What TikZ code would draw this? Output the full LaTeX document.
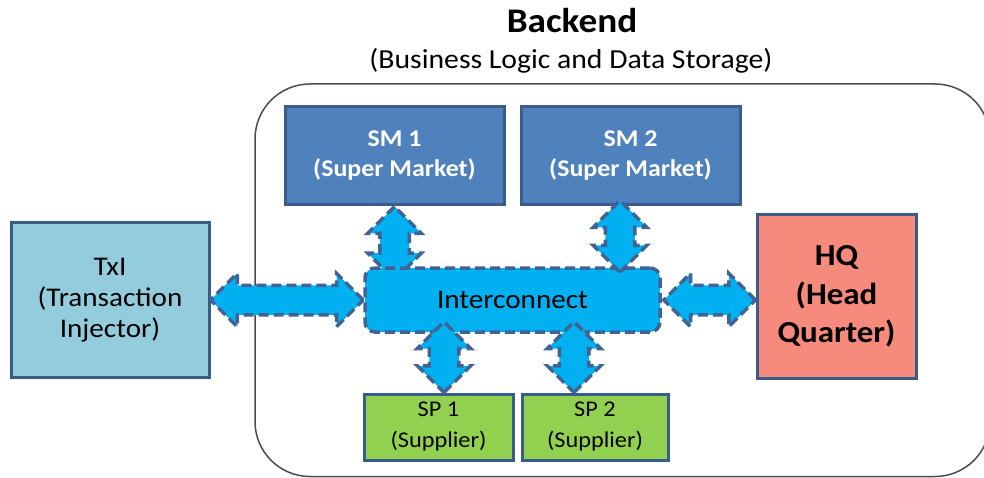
\documentclass[tikz,border=0pt]{standalone}
\usepackage{fontspec}
\setmainfont{Carlito}[FakeStretch=1.08]
\usetikzlibrary{shapes.arrows,calc}
\definecolor{smblue}{RGB}{79,129,189}
\definecolor{edgeblue}{RGB}{56,93,138}
\definecolor{txblue}{RGB}{147,205,221}
\definecolor{hqred}{RGB}{246,138,124}
\definecolor{spgreen}{RGB}{146,208,80}
\definecolor{icblue}{RGB}{0,176,240}
\definecolor{dashblue}{RGB}{64,98,148}
\newcommand\fatlink[3][]{%
  \path let \p1=(#2), \p2=(#3), \n1={veclen(\x2-\x1,\y2-\y1)}, \n2={atan2(\y2-\y1,\x2-\x1)} in
    node[fatarrow, minimum height=\n1, rotate=\n2, #1] at ($(\p1)!0.5!(\p2)$) {};}
\begin{document}
\begin{tikzpicture}[x=1pt,y=-1pt,
  box/.style={draw=edgeblue, line width=3pt, inner sep=0pt, align=center},
  fatarrow/.style={double arrow, double arrow head extend=12pt, inner xsep=0pt, inner ysep=13pt,
    text height=0pt, text depth=0pt, fill=icblue, draw=dashblue, line width=3.5pt,
    dash pattern=on 10pt off 5pt},
  linkbox/.style={rounded corners=10pt, fill=icblue, draw=dashblue, line width=3.5pt,
    dash pattern=on 10pt off 5pt, inner sep=0pt}]
\useasboundingbox (0,0) rectangle (984,478);
\clip (0,0) rectangle (984,478);
\fill[white] (0,0) rectangle (984,478);
% backend frame
\draw[line width=1.5pt, draw=black!70, rounded corners=55pt] (255,84) rectangle (990,476.5);
\node[font=\fontsize{34.5}{40}\selectfont\bfseries] (title) at (572,21) {Backend};
\node[font=\fontsize{27.5}{33}\selectfont] (sub) at (571,61) {(Business Logic and Data Storage)};
% boxes
\node[box, fill=txblue, minimum width=198, minimum height=154, font=\fontsize{27}{31}\selectfont] (txi) at (110,300) {TxI\\(Transaction\\Injector)};
\node[box, fill=hqred, minimum width=159, minimum height=163, font=\fontsize{30.5}{38.5}\selectfont\bfseries] (hq) at (836.5,296.5) {HQ\\(Head\\Quarter)};
\node[box, fill=smblue, text=white, minimum width=219, minimum height=98, font=\fontsize{24}{30}\selectfont\bfseries] (sm1) at (394.5,156) {SM 1\\(Super Market)};
\node[box, fill=smblue, text=white, minimum width=219, minimum height=98, font=\fontsize{24}{30}\selectfont\bfseries] (sm2) at (630.5,156) {SM 2\\(Super Market)};
\node[box, fill=spgreen, minimum width=149, minimum height=66, font=\fontsize{22.5}{31}\selectfont] (sp1) at (438.5,427) {SP 1\\(Supplier)};
\node[box, fill=spgreen, minimum width=146, minimum height=66, font=\fontsize{22.5}{31}\selectfont] (sp2) at (595,427) {SP 2\\(Supplier)};
% interconnect geometry (for arrow drawn beneath it)
\coordinate (icn) at (512.5,268);
\fatlink[name=a3]{sm1.south}{$(sm1.south |- icn)+(0,12)$}
\node[linkbox, minimum width=295, minimum height=64, font=\fontsize{27}{32}\selectfont] (ic) at (512.5,300) {Interconnect};
% arrows on top
\fatlink[name=a1]{txi.east}{ic.west}
\fatlink[name=a2]{$(ic.east)+(2,0)$}{hq.west |- ic.east}
\fatlink[name=a4]{$(sm2.south)+(-10.5,-6)$}{$(sm2.south |- ic.north)+(-10.5,6)$}
\fatlink[name=a5]{$(sp1.north |- ic.south)+(5.5,-12)$}{$(sp1.north)+(5.5,0)$}
\fatlink[name=a6]{$(sp2.north |- ic.south)+(-21,-12)$}{$(sp2.north)+(-21,0)$}
\end{tikzpicture}
\end{document}
